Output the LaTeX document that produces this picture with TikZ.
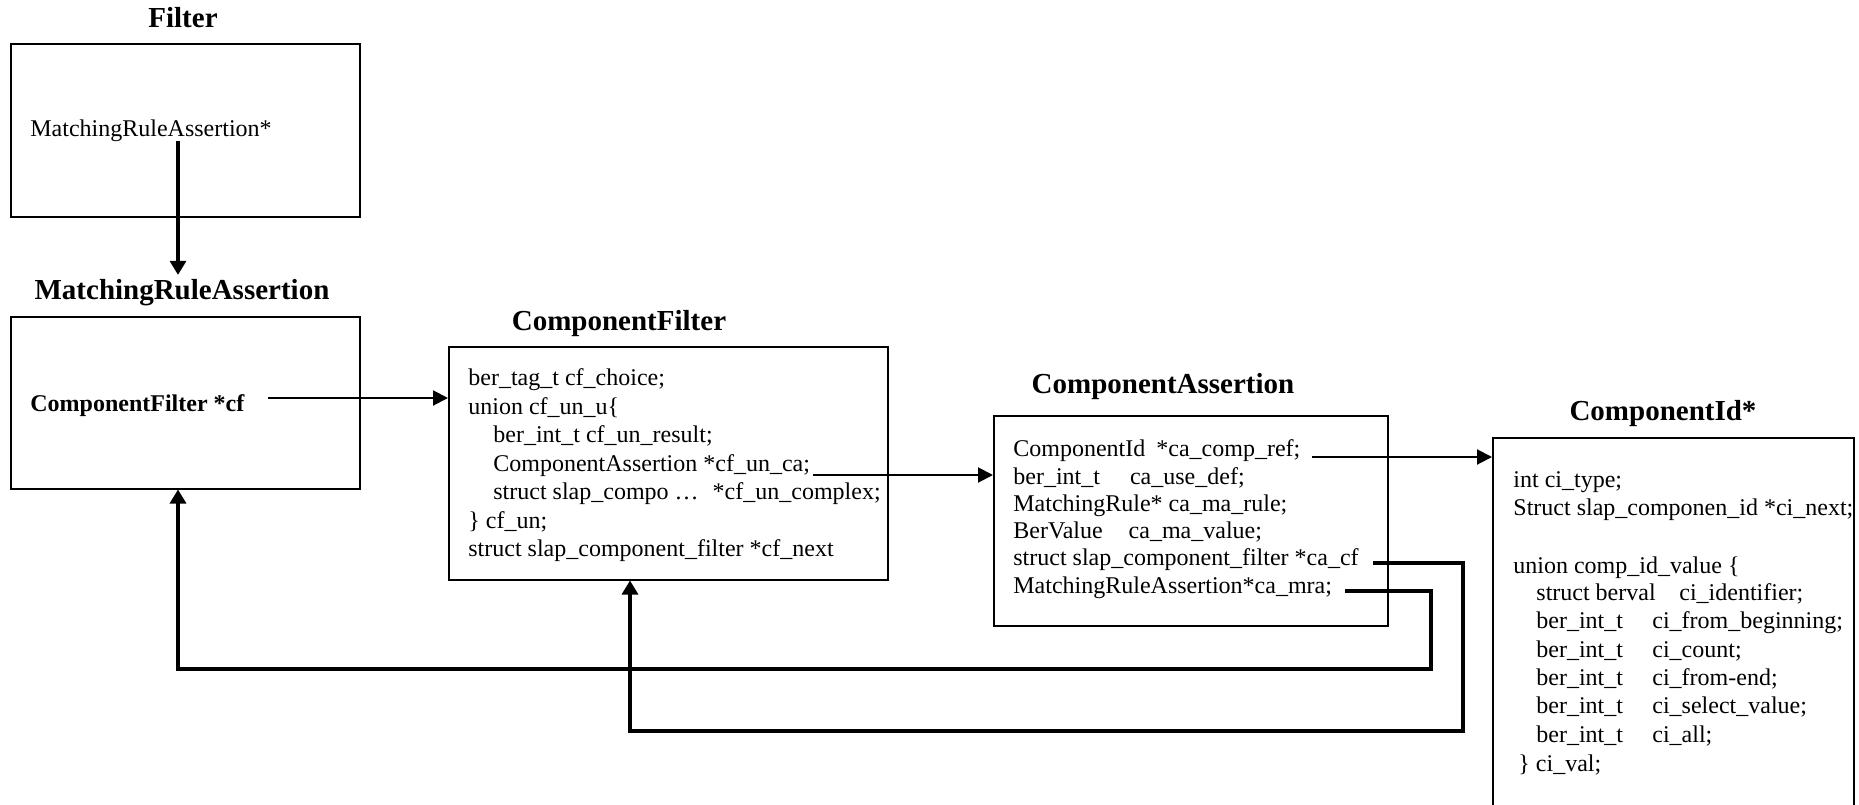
\documentclass[tikz,border=0pt]{standalone}
\usepackage{fontspec}
\setmainfont{Liberation Serif}
\usetikzlibrary{arrows.meta,calc}
\begin{document}
\begin{tikzpicture}[x=0.5pt,y=-0.5pt,
  box/.style={draw=black,line width=0.75pt,inner sep=0pt,anchor=north west},
  title/.style={font=\bfseries\fontsize{14.5}{17}\selectfont,inner sep=0pt,anchor=base},
  code/.style={font=\fontsize{12}{14}\selectfont,inner sep=0pt,anchor=base west},
  boldcode/.style={font=\bfseries\fontsize{12}{14}\selectfont,inner sep=0pt,anchor=base west},
  link/.style={line width=1pt,-{Triangle[length=7.5pt,width=7.5pt]}},
  heavy/.style={line width=1.6pt,-{Triangle[length=7pt,width=8pt]}},
]
\clip (0,0) rectangle (1859,804);
\fill[white] (0,0) rectangle (1859,804);

% ---- Filter ----
\node[title] (filterT) at (183,27) {Filter};
\node[box,minimum width=174.5pt,minimum height=86.5pt] (filter) at (10,43) {};
\node[code] (fl) at (30,136) {MatchingRuleAssertion*};

% ---- MatchingRuleAssertion ----
\node[title,outer sep=2pt] (mraT) at (182,299) {MatchingRuleAssertion};
\node[box,minimum width=174.5pt,minimum height=86pt] (mra) at (10,316) {};
\node[boldcode] (mraL) at (30,411) {ComponentFilter *cf};

% ---- ComponentFilter ----
\node[title] (cfT) at (619,330) {ComponentFilter};
\node[box,minimum width=219.5pt,minimum height=116.5pt] (cf) at (448,346) {};
\node[code] (cf1) at (468,385.5) {ber\_tag\_t cf\_choice;};
\node[code] (cf2) at (468,414) {union cf\_un\_u\{};
\node[code] (cf3) at (493,442.5) {ber\_int\_t cf\_un\_result;};
\node[code] (cf4) at (493,471) {ComponentAssertion *cf\_un\_ca;};
\node[code] (cf5) at (493,499.5) {struct slap\_compo …\hspace{7pt}*cf\_un\_complex;};
\node[code] (cf6) at (468,528) {\} cf\_un;};
\node[code] (cf7) at (468,556.5) {struct slap\_component\_filter *cf\_next};

% ---- ComponentAssertion ----
\node[title] (caT) at (1163,393) {ComponentAssertion};
\node[box,minimum width=197pt,minimum height=105pt] (ca) at (993,415) {};
\node[code] (ca1) at (1013,456.7) {ComponentId\hspace{5.5pt}*ca\_comp\_ref;};
\node[code] (ca2) at (1013,484) {ber\_int\_t\hspace{15pt}ca\_use\_def;};
\node[code] (ca3) at (1013,511.3) {MatchingRule* ca\_ma\_rule;};
\node[code] (ca4) at (1013,538.6) {BerValue\hspace{13pt}ca\_ma\_value;};
\node[code] (ca5) at (1013,565.9) {struct slap\_component\_filter *ca\_cf};
\node[code] (ca6) at (1013,593.2) {MatchingRuleAssertion*ca\_mra;};

% ---- ComponentId* ----
\node[title] (ciT) at (1663,420) {ComponentId*};
\node[box,minimum width=180.5pt,minimum height=196.5pt] (ci) at (1492,437) {};
\node[code] (ci1) at (1513,487) {int ci\_type;};
\node[code] (ci2) at (1513,515) {Struct slap\_componen\_id *ci\_next;};
\node[code] (ci3) at (1513,573) {union comp\_id\_value \{};
\node[code] (ci4a) at (1536,600) {struct berval};
\node[code] (ci4b) at (1679,600) {ci\_identifier;};
\node[code] (ci5a) at (1536,628) {ber\_int\_t};
\node[code] (ci5b) at (1652,628) {ci\_from\_beginning;};
\node[code] (ci6a) at (1536,657) {ber\_int\_t};
\node[code] (ci6b) at (1652,657) {ci\_count;};
\node[code] (ci7a) at (1536,685) {ber\_int\_t};
\node[code] (ci7b) at (1652,685) {ci\_from-end;};
\node[code] (ci8a) at (1536,713) {ber\_int\_t};
\node[code] (ci8b) at (1652,713) {ci\_select\_value;};
\node[code] (ci9a) at (1536,742) {ber\_int\_t};
\node[code] (ci9b) at (1652,742) {ci\_all;};
\node[code] (ci10) at (1518,771) {\} ci\_val;};

% ---- connector start points (next to the member that points) ----
\coordinate (pFilter) at (178,141);
\coordinate (pCf) at (268,398);
\coordinate (pCa) at (813,475);
\coordinate (pRef) at (1312,457);
\coordinate (pCaCf) at (1373,563);
\coordinate (pMra) at (1345,591);
% bends of the two return paths
\coordinate (bCaCf) at (1463,731);
\coordinate (eCaCf) at (630,731);
\coordinate (bMra) at (1431,669);
\coordinate (eMra) at (178,669);

% ---- connectors ----
\draw[heavy] (pFilter) -- (pFilter |- mraT.north);
\draw[link] (pCf) -- (pCf -| cf.west);
\draw[link] (pCa) -- (pCa -| ca.west);
\draw[link] (pRef) -- (pRef -| ci.west);
\draw[heavy] (pCaCf) -| (bCaCf) -- (eCaCf) -- (eCaCf |- cf.south);
\draw[heavy] (pMra) -| (bMra) -- (eMra) -- (eMra |- mra.south);
\end{tikzpicture}
\end{document}
